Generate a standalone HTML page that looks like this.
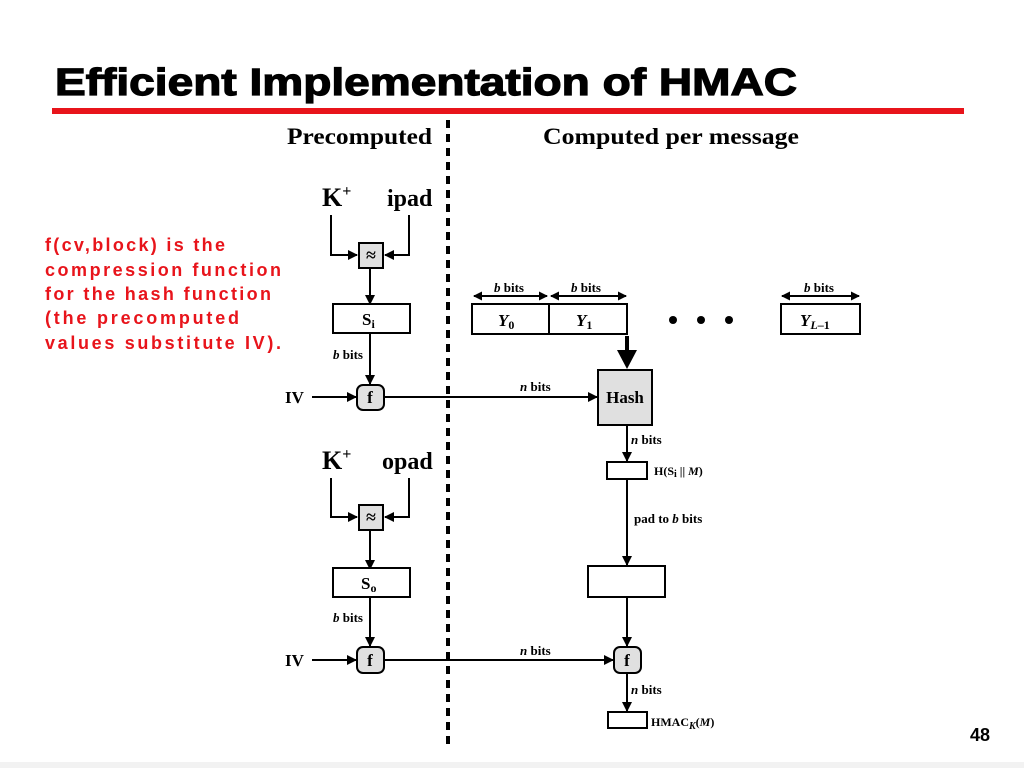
<!DOCTYPE html>
<html><head><meta charset="utf-8"><style>
html,body{margin:0;padding:0;background:#fff;width:1024px;height:768px;overflow:hidden}
</style></head><body>
<svg width="1024" height="768" viewBox="0 0 1024 768" xmlns="http://www.w3.org/2000/svg">
<defs>
<marker id="a" markerWidth="10" markerHeight="10" refX="9" refY="5" orient="auto" markerUnits="userSpaceOnUse"><path d="M0,0 L10,5 L0,10 z" fill="#000"/></marker>
<marker id="d" markerWidth="9" markerHeight="9" refX="8" refY="4.5" orient="auto-start-reverse" markerUnits="userSpaceOnUse"><path d="M0,0 L9,4.5 L0,9 z" fill="#000"/></marker>
</defs>
<rect x="0" y="762" width="1024" height="6" fill="#f2f2f2"/>
<text x="55" y="95" font-family="Liberation Sans, sans-serif" font-weight="bold" font-size="38" stroke="#000" stroke-width="1.2" textLength="742" lengthAdjust="spacingAndGlyphs">Efficient Implementation of HMAC</text>
<rect x="52" y="108" width="912" height="6" fill="#e8141b"/>
<line x1="448" y1="120" x2="448" y2="748" stroke="#000" stroke-width="4" stroke-dasharray="8,6"/>
<g font-family="Liberation Serif, serif" font-weight="bold">
<text x="287" y="144" font-size="23" textLength="145" lengthAdjust="spacingAndGlyphs">Precomputed</text>
<text x="543" y="144" font-size="23" textLength="256" lengthAdjust="spacingAndGlyphs">Computed per message</text>
<text x="322" y="206" font-size="26">K<tspan font-size="16" dy="-10">+</tspan></text>
<text x="387" y="206" font-size="24">ipad</text>
<text x="322" y="469" font-size="26">K<tspan font-size="16" dy="-10">+</tspan></text>
<text x="382" y="469" font-size="24">opad</text>
</g>
<g fill="none" stroke="#000" stroke-width="2">
<polyline points="331,215 331,255 357,255" marker-end="url(#a)"/>
<polyline points="409,215 409,255 385,255" marker-end="url(#a)"/>
<line x1="370" y1="268" x2="370" y2="304" marker-end="url(#a)"/>
<line x1="370" y1="333" x2="370" y2="384" marker-end="url(#a)"/>
<line x1="312" y1="397" x2="356" y2="397" marker-end="url(#a)"/>
<line x1="384" y1="397" x2="597" y2="397" marker-end="url(#a)"/>
<polyline points="331,478 331,517 357,517" marker-end="url(#a)"/>
<polyline points="409,478 409,517 385,517" marker-end="url(#a)"/>
<line x1="370" y1="530" x2="370" y2="569" marker-end="url(#a)"/>
<line x1="370" y1="597" x2="370" y2="646" marker-end="url(#a)"/>
<line x1="312" y1="660" x2="356" y2="660" marker-end="url(#a)"/>
<line x1="384" y1="660" x2="613" y2="660" marker-end="url(#a)"/>
<line x1="627" y1="425" x2="627" y2="461" marker-end="url(#a)"/>
<line x1="627" y1="479" x2="627" y2="565" marker-end="url(#a)"/>
<line x1="627" y1="597" x2="627" y2="646" marker-end="url(#a)"/>
<line x1="627" y1="673" x2="627" y2="711" marker-end="url(#a)"/>
<line x1="474" y1="296" x2="547" y2="296" marker-start="url(#d)" marker-end="url(#d)"/>
<line x1="551" y1="296" x2="626" y2="296" marker-start="url(#d)" marker-end="url(#d)"/>
<line x1="782" y1="296" x2="859" y2="296" marker-start="url(#d)" marker-end="url(#d)"/>
</g>
<line x1="627" y1="336" x2="627" y2="352" stroke="#000" stroke-width="4"/>
<path d="M617,350 L637,350 L627,369 z" fill="#000"/>
<g stroke="#000" stroke-width="2">
<rect x="359" y="243" width="24" height="25" fill="#e0e0e0"/>
<rect x="359" y="505" width="24" height="25" fill="#e0e0e0"/>
<rect x="333" y="304" width="77" height="29" fill="#fff"/>
<rect x="333" y="568" width="77" height="29" fill="#fff"/>
<rect x="357" y="385" width="27" height="25" rx="6" fill="#e0e0e0"/>
<rect x="357" y="647" width="27" height="26" rx="6" fill="#e0e0e0"/>
<rect x="614" y="647" width="27" height="26" rx="6" fill="#e0e0e0"/>
<rect x="598" y="370" width="54" height="55" fill="#e0e0e0"/>
<rect x="472" y="304" width="155" height="30" fill="#fff"/>
<line x1="549" y1="304" x2="549" y2="334"/>
<rect x="781" y="304" width="79" height="30" fill="#fff"/>
<rect x="607" y="462" width="40" height="17" fill="#fff"/>
<rect x="588" y="566" width="77" height="31" fill="#fff"/>
<rect x="608" y="712" width="39" height="16" fill="#fff"/>
</g>
<circle cx="673" cy="320" r="4"/><circle cx="701" cy="320" r="4"/><circle cx="729" cy="320" r="4"/>
<g font-family="Liberation Serif, serif" font-weight="bold">
<text x="371" y="261" font-size="18" text-anchor="middle">≈</text>
<text x="371" y="523" font-size="18" text-anchor="middle">≈</text>
<text x="362" y="325" font-size="17">S<tspan font-size="12" dy="3">i</tspan></text>
<text x="361" y="589" font-size="17">S<tspan font-size="12" dy="3">o</tspan></text>
<text x="370" y="403" font-size="17" text-anchor="middle">f</text>
<text x="370" y="666" font-size="17" text-anchor="middle">f</text>
<text x="627" y="666" font-size="17" text-anchor="middle">f</text>
<text x="625" y="403" font-size="17" text-anchor="middle">Hash</text>
<text x="285" y="403" font-size="17">IV</text>
<text x="285" y="666" font-size="17">IV</text>
<g font-size="13">
<text x="333" y="359"><tspan font-style="italic">b</tspan> bits</text>
<text x="333" y="622"><tspan font-style="italic">b</tspan> bits</text>
<text x="520" y="391"><tspan font-style="italic">n</tspan> bits</text>
<text x="520" y="655"><tspan font-style="italic">n</tspan> bits</text>
<text x="631" y="444"><tspan font-style="italic">n</tspan> bits</text>
<text x="631" y="694"><tspan font-style="italic">n</tspan> bits</text>
<text x="494" y="292"><tspan font-style="italic">b</tspan> bits</text>
<text x="571" y="292"><tspan font-style="italic">b</tspan> bits</text>
<text x="804" y="292"><tspan font-style="italic">b</tspan> bits</text>
<text x="634" y="523">pad to <tspan font-style="italic">b</tspan> bits</text>
<text x="654" y="475" font-size="12">H(S<tspan font-size="10" dy="2">i</tspan><tspan dy="-2"> || </tspan><tspan font-style="italic">M</tspan>)</text>
<text x="651" y="726" font-size="12">HMAC<tspan font-size="10" dy="3" font-style="italic">K</tspan><tspan dy="-3">(</tspan><tspan font-style="italic">M</tspan>)</text>
</g>
<text x="498" y="326" font-size="17" font-style="italic">Y<tspan font-size="12" dy="3" font-style="normal">0</tspan></text>
<text x="576" y="326" font-size="17" font-style="italic">Y<tspan font-size="12" dy="3" font-style="normal">1</tspan></text>
<text x="800" y="326" font-size="17" font-style="italic">Y<tspan font-size="12" dy="3">L</tspan><tspan font-size="12" font-style="normal">–1</tspan></text>
</g>
<g font-family="Liberation Sans, sans-serif" font-weight="bold" font-size="18" fill="#e8141b" lengthAdjust="spacingAndGlyphs">
<text x="45" y="251" textLength="180">f(cv,block) is the</text>
<text x="45" y="276" textLength="236">compression function</text>
<text x="45" y="300" textLength="226">for the hash function</text>
<text x="45" y="324" textLength="194">(the precomputed</text>
<text x="45" y="349" textLength="236">values substitute IV).</text>
</g>
<text x="970" y="741" font-family="Liberation Sans, sans-serif" font-weight="bold" font-size="18">48</text>
</svg>
</body></html>
